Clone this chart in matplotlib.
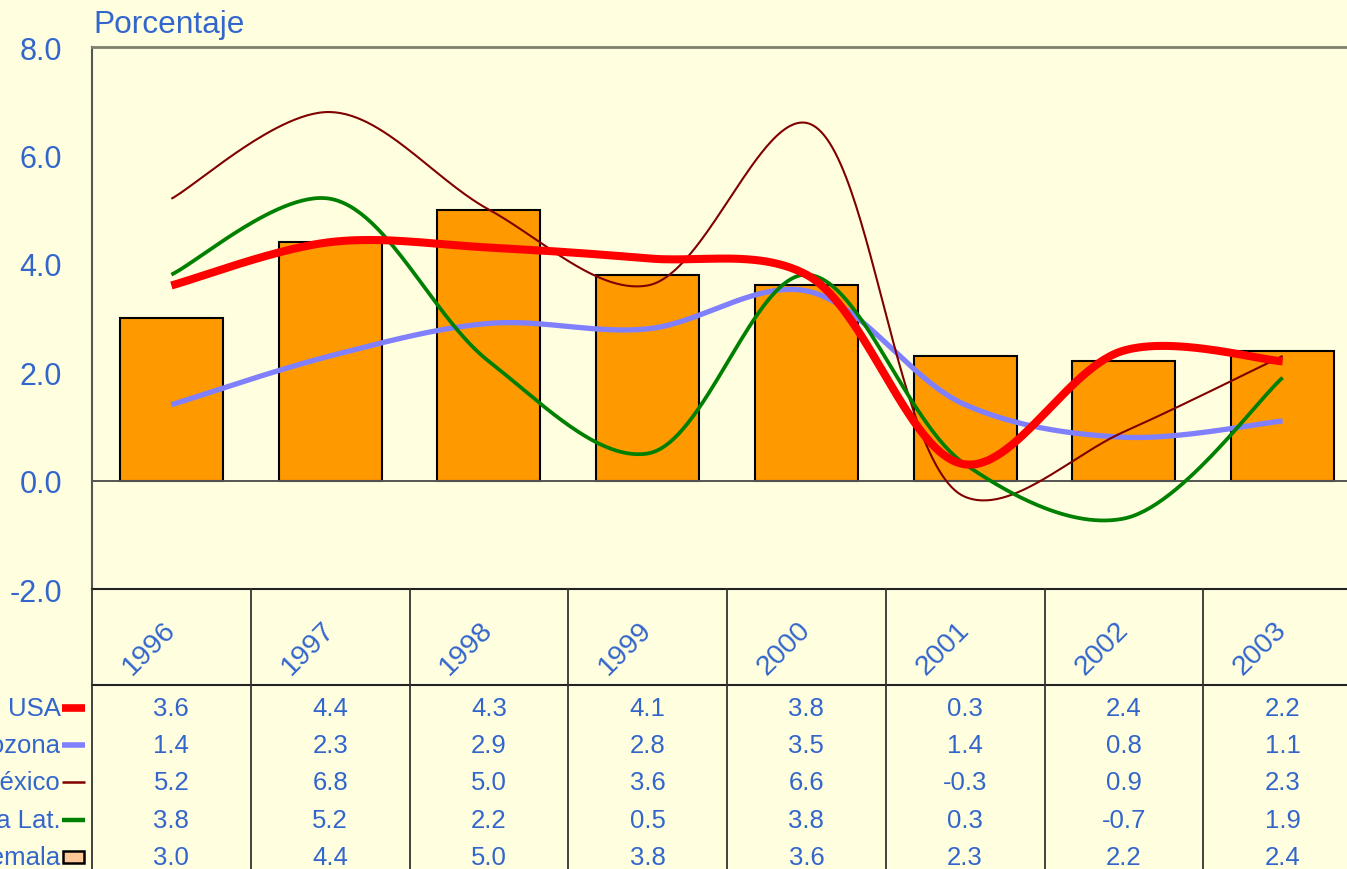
import numpy as np
import matplotlib
matplotlib.use("Agg")
import matplotlib.pyplot as plt
from matplotlib.patches import Rectangle
from matplotlib.lines import Line2D

plt.rcParams['font.family'] = ['Liberation Sans', 'DejaVu Sans']

years = ["1996", "1997", "1998", "1999", "2000", "2001", "2002", "2003"]
series_names = ["USA", "Eurozona", "México", "América Lat.", "Guatemala"]
usa = [3.6, 4.4, 4.3, 4.1, 3.8, 0.3, 2.4, 2.2]
eurozona = [1.4, 2.3, 2.9, 2.8, 3.5, 1.4, 0.8, 1.1]
mexico = [5.2, 6.8, 5.0, 3.6, 6.6, -0.3, 0.9, 2.3]
america_lat = [3.8, 5.2, 2.2, 0.5, 3.8, 0.3, -0.7, 1.9]
guatemala = [3.0, 4.4, 5.0, 3.8, 3.6, 2.3, 2.2, 2.4]

BG = '#FFFFE0'
TXT = '#3366CC'
BAR = '#FF9900'
BAR_KEY = '#FFC896'

W, H = 1347, 870
fig = plt.figure(figsize=(W / 100, H / 100), dpi=100, facecolor=BG)

# main plot area (extends past the right edge)
left_px, right_px, top_px, bot_px = 92, 1362, 48, 590
YMIN, YMAX = -2, 8
SX = (right_px - left_px) / 8.0          # pixels per category
SY = (bot_px - top_px) / (YMAX - YMIN)   # pixels per unit


def smooth(y, n=60, alpha=0.5):
    """Centripetal Catmull-Rom curve through the points, built in screen space."""
    y = np.asarray(y, float)
    P = np.column_stack([np.arange(len(y)) * SX, y * SY])
    m = len(P)
    d = np.linalg.norm(np.diff(P, axis=0), axis=1) ** alpha
    t = np.concatenate([[0], np.cumsum(d)])
    tang = np.zeros_like(P)
    for i in range(1, m - 1):
        tang[i] = ((P[i] - P[i - 1]) / (t[i] - t[i - 1])
                   - (P[i + 1] - P[i - 1]) / (t[i + 1] - t[i - 1])
                   + (P[i + 1] - P[i]) / (t[i + 1] - t[i]))
    tang[0] = 0.5 * (P[1] - P[0]) / (t[1] - t[0])
    tang[-1] = 0.5 * (P[-1] - P[-2]) / (t[-1] - t[-2])
    out = []
    s = np.linspace(0, 1, n)[:, None]
    for i in range(m - 1):
        dt = t[i + 1] - t[i]
        p1, p2 = P[i], P[i + 1]
        c1 = p1 + tang[i] * dt / 3
        c2 = p2 - tang[i + 1] * dt / 3
        seg = ((1 - s) ** 3) * p1 + 3 * ((1 - s) ** 2) * s * c1 + 3 * (1 - s) * s ** 2 * c2 + s ** 3 * p2
        out.append(seg if i == 0 else seg[1:])
    out = np.vstack(out)
    return out[:, 0] / SX, out[:, 1] / SY


ax = fig.add_axes([left_px / W, (H - bot_px) / H, (right_px - left_px) / W, (bot_px - top_px) / H])
ax.set_facecolor(BG)
ax.set_xlim(-0.5, 7.5)
ax.set_ylim(YMIN, YMAX)
yt = [-2, 0, 2, 4, 6, 8]
ax.set_yticks(yt)
ax.set_yticklabels([f"{v:.1f}" for v in yt])
ax.tick_params(axis='y', length=0, pad=21.6, labelsize=22, labelcolor=TXT)
ax.tick_params(axis='x', length=0, labelbottom=False)
for s in ['right', 'bottom']:
    ax.spines[s].set_visible(False)
ax.spines['left'].set_color('#555555')
ax.spines['left'].set_linewidth(1.5)
ax.spines['top'].set_color('#808070')
ax.spines['top'].set_linewidth(2.0)

x = np.arange(len(years))
ax.bar(x, guatemala, width=0.65, color=BAR, edgecolor='black', linewidth=1.5, zorder=2)
ax.axhline(0, color='#555555', linewidth=1.4, zorder=2.5)

line_styles = [
    (eurozona, '#8080FF', 3.8),
    (mexico, '#800000', 1.5),
    (america_lat, '#008000', 2.7),
    (usa, '#FF0000', 5.8),
]
for vals, col, lw in line_styles:
    sx, sy = smooth(vals)
    ax.plot(sx, sy, color=col, linewidth=lw, solid_capstyle='butt', zorder=3)

fig.text(93 / W, (H - 33) / H, "Porcentaje", color=TXT, fontsize=22.8, ha='left', va='baseline')

# data table below the plot
tab_bottom_px = 880
tax = fig.add_axes([left_px / W, (H - tab_bottom_px) / H, (right_px - left_px) / W, (tab_bottom_px - bot_px) / H])
tax.set_xlim(-0.5, 7.5)
tax.set_ylim(tab_bottom_px - bot_px, 0)
tax.axis('off')
tax.patch.set_alpha(0)

header_h = 96
tax.plot([-0.5, 7.5], [0, 0], color='#222222', lw=1.5, clip_on=False)
tax.plot([-0.5, 7.5], [header_h, header_h], color='#222222', lw=1.5, clip_on=False)
for k in range(9):
    tax.plot([k - 0.5, k - 0.5], [0, tab_bottom_px - bot_px], color='#333333', lw=1.3, clip_on=False)

for i, yr in enumerate(years):
    tax.text(i - 0.14, 59, yr, rotation=45, rotation_mode='anchor', ha='center', va='center',
             fontsize=20.5, color=TXT)

rows = [usa, eurozona, mexico, america_lat, guatemala]
row_y = [119, 156, 193, 231, 268]
for vals, ry in zip(rows, row_y):
    for i, v in enumerate(vals):
        tax.text(i, ry, f"{v:.1f}", ha='center', va='center', fontsize=18.5, color=TXT)

# row labels with legend keys
for name, ry in zip(series_names, row_y):
    fy = (H - (bot_px + ry)) / H
    fig.text(61 / W, fy, name, ha='right', va='center', fontsize=18.5, color=TXT)

key_x0, key_x1 = 62, 85
keys = [('#FF0000', 5.5), ('#8080FF', 4.0), ('#800000', 1.8), ('#008000', 3.2)]
for (col, lw), ry in zip(keys, row_y[:4]):
    fy = (H - (bot_px + ry)) / H
    fig.add_artist(Line2D([key_x0 / W, key_x1 / W], [fy, fy], color=col, lw=lw,
                          solid_capstyle='butt', transform=fig.transFigure))
fy = (H - (bot_px + row_y[4])) / H
fig.add_artist(Rectangle((63 / W, fy - 6 / H), 21 / W, 12 / H, transform=fig.transFigure,
                         facecolor=BAR_KEY, edgecolor='black', linewidth=1.8))

fig.savefig("out.png", dpi=100, facecolor=BG)
